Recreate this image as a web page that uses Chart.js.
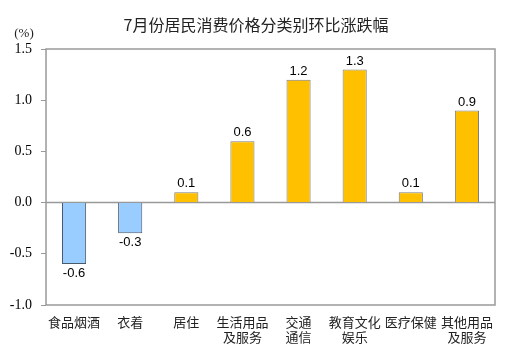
<!DOCTYPE html>
<html><head><meta charset="utf-8">
<script src="https://cdn.jsdelivr.net/npm/chart.js@4"></script>
<style>html,body{margin:0;padding:0;background:#fff}#wrap{width:527px;height:359px}</style>
</head><body><div id="wrap"><canvas id="c" width="527" height="359"></canvas></div>
<script>
const titleText = '7月份居民消费价格分类别环比涨跌幅';
const unitLabel = '(%)';
const categories = [['食品烟酒'],['衣着'],['居住'],['生活用品','及服务'],['交通','通信'],['教育文化','娱乐'],['医疗保健'],['其他用品','及服务']];
const values = [-0.6, -0.3, 0.1, 0.6, 1.2, 1.3, 0.1, 0.9];
const yTicks = [-1.0, -0.5, 0.0, 0.5, 1.0, 1.5];

const cjk = '"Noto Sans CJK SC", sans-serif';
const serif = 'Liberation Serif, Times New Roman, serif';
const deco = {
  id:'deco',
  beforeDatasetsDraw(chart){
    const {ctx, chartArea:a, scales:{y}} = chart;
    ctx.save();
    ctx.strokeStyle='#999';ctx.lineWidth=1.5;
    const y0=y.getPixelForValue(0);
    ctx.beginPath();ctx.moveTo(a.left,y0);ctx.lineTo(a.right,y0);ctx.stroke();
    ctx.strokeRect(a.left,a.top,a.right-a.left,a.bottom-a.top);
    ctx.restore();
  },
  afterDatasetsDraw(chart){
    const {ctx} = chart;
    const meta = chart.getDatasetMeta(0);
    ctx.save();
    ctx.font='13px "Liberation Sans", Arial, sans-serif';
    ctx.fillStyle='#000';ctx.textAlign='center';
    meta.data.forEach((b,i)=>{
      const v=values[i];
      if(v>=0){ctx.textBaseline='bottom';ctx.fillText(v.toFixed(1),b.x,b.y-2);}
      else{ctx.textBaseline='top';ctx.fillText(v.toFixed(1),b.x,b.y+3);}
    });
    ctx.font='16px '+cjk;ctx.fillStyle='#222';ctx.textBaseline='middle';
    ctx.fillText(titleText,256,25);
    ctx.font='13px '+serif;ctx.textAlign='center';
    ctx.fillText(unitLabel,24,34);
    ctx.restore();
  }
};

new Chart(document.getElementById('c'),{
  type:'bar',
  data:{labels:categories,datasets:[{
    data:values,
    backgroundColor:values.map(v=>v<0?'#99CCFF':'#FFC000'),
    borderColor:values.map(v=>v<0?'#4a5a6a':'#7f7f7f'),
    borderWidth:1,
    barPercentage:0.43,categoryPercentage:1
  }]},
  options:{
    responsive:false,animation:false,
    layout:{padding:{left:0,right:32,top:49,bottom:0}},
    plugins:{legend:{display:false},tooltip:{enabled:false}},
    scales:{
      x:{
        grid:{display:false},border:{display:false},
        ticks:{color:'#222',font:{family:cjk,size:13,lineHeight:1.15},maxRotation:0,padding:2,autoSkip:false},
        afterFit:s=>{s.height=54;}
      },
      y:{
        min:-1,max:1.5,
        afterBuildTicks:s=>{s.ticks=yTicks.map(v=>({value:v}));},
        grid:{drawOnChartArea:false,tickLength:5,color:'#999'},border:{display:false},
        ticks:{color:'#000',font:{family:serif,size:14},padding:9,callback:v=>Number(v).toFixed(1)},
        afterFit:s=>{s.width=46;}
      }
    }
  },
  plugins:[deco]
});
</script></body></html>
